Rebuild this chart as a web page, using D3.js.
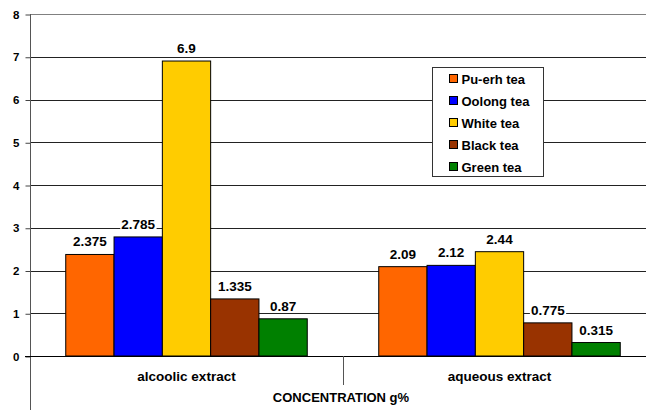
<!DOCTYPE html>
<html>
<head>
<meta charset="utf-8">
<script src="https://cdn.jsdelivr.net/npm/d3@7"></script>
<style>
  body { margin: 0; background: #fff; }
  svg { display: block; font-family: "Liberation Sans", Arial, sans-serif; font-weight: bold; }
</style>
</head>
<body>
<div id="chart"></div>
<script>
// data
const categories = ['alcoolic extract', 'aqueous extract'];
const series = ['Pu-erh tea', 'Oolong tea', 'White tea', 'Black tea', 'Green tea'];
const colors = ['#FF6600', '#0000FF', '#FFCC00', '#993300', '#008000'];
const valuesAlcoolic = [2.375, 2.785, 6.9, 1.335, 0.87];
const valuesAqueous = [2.09, 2.12, 2.44, 0.775, 0.315];
const labelsAlcoolic = ['2.375', '2.785', '6.9', '1.335', '0.87'];
const labelsAqueous = ['2.09', '2.12', '2.44', '0.775', '0.315'];
const yTicks = [0, 1, 2, 3, 4, 5, 6, 7, 8];

const width = 646, height = 413;

const svg = d3.select('#chart').append('svg')
    .attr('width', width)
    .attr('height', height);

const x0 = d3.scaleBand().domain(categories).range([30, 656]).padding(0);
const x1 = d3.scaleBand().domain(series).range([0, x0.bandwidth()]).paddingInner(0).paddingOuter(0.74);
const y = d3.scaleLinear().domain([0, 8]).range([356, 14]);
const color = d3.scaleOrdinal().domain(series).range(colors);

// gridlines
svg.append('g')
    .selectAll('line')
    .data(yTicks.filter(d => d > 0))
    .join('line')
    .attr('x1', 30).attr('x2', width)
    .attr('y1', d => Math.round(y(d)) + 0.5)
    .attr('y2', d => Math.round(y(d)) + 0.5)
    .attr('stroke', d => d === 8 ? '#808080' : '#222')
    .attr('stroke-width', 1);

// y axis
const yAxis = svg.append('g')
    .attr('transform', 'translate(30.5,0.5)')
    .call(d3.axisLeft(y).tickValues(yTicks).tickSize(5).tickFormat(d3.format('d')));
yAxis.select('.domain').remove();
yAxis.selectAll('.tick line').attr('stroke', '#444');
yAxis.selectAll('.tick text')
    .attr('x', -11)
    .style('font-size', '11.5px')
    .style('font-weight', 'bold')
    .style('font-family', '"Liberation Sans", Arial, sans-serif')
    .attr('fill', '#000');

svg.append('line')
    .attr('x1', 30.5).attr('x2', 30.5)
    .attr('y1', 14).attr('y2', 410)
    .attr('stroke', '#555');

// bars
const rows = categories.map((c, i) => ({
    cat: c,
    vals: i === 0 ? valuesAlcoolic : valuesAqueous,
    labs: i === 0 ? labelsAlcoolic : labelsAqueous
}));

const groups = svg.selectAll('.grp')
    .data(rows)
    .join('g')
    .attr('class', 'grp')
    .attr('transform', d => `translate(${x0(d.cat)},0)`);

groups.selectAll('rect')
    .data(d => series.map((s, j) => ({ s, v: d.vals[j] })))
    .join('rect')
    .attr('x', d => x1(d.s))
    .attr('y', d => y(d.v))
    .attr('width', x1.bandwidth())
    .attr('height', d => y(0) - y(d.v))
    .attr('fill', d => color(d.s))
    .attr('stroke', '#000')
    .attr('stroke-width', 1);

// value labels with white background
groups.each(function(d) {
    const g = d3.select(this);
    series.forEach((s, j) => {
        const cx = x1(s) + x1.bandwidth() / 2;
        const ty = y(d.vals[j]) - 8;
        const t = g.append('text')
            .attr('x', cx)
            .attr('y', ty)
            .attr('text-anchor', 'middle')
            .style('font-size', '13.5px')
            .attr('fill', '#000')
            .text(d.labs[j]);
        const bb = t.node().getBBox();
        g.insert('rect', () => t.node())
            .attr('x', bb.x - 1).attr('y', bb.y + 1)
            .attr('width', bb.width + 2).attr('height', bb.height - 2)
            .attr('fill', '#fff');
    });
});

// zero line
svg.append('line')
    .attr('x1', 25).attr('x2', width)
    .attr('y1', Math.round(y(0)) + 0.5).attr('y2', Math.round(y(0)) + 0.5)
    .attr('stroke', '#000');

// category divider
svg.append('line')
    .attr('x1', x0(categories[1]) + 0.5).attr('x2', x0(categories[1]) + 0.5)
    .attr('y1', y(0)).attr('y2', 385)
    .attr('stroke', '#555');

// category labels
svg.selectAll('.cat')
    .data(categories)
    .join('text')
    .attr('class', 'cat')
    .attr('x', d => x0(d) + x0.bandwidth() / 2)
    .attr('y', 381)
    .attr('text-anchor', 'middle')
    .style('font-size', '13.5px')
    .text(d => d);

svg.append('text')
    .attr('x', 341)
    .attr('y', 402)
    .attr('text-anchor', 'middle')
    .style('font-size', '13px')
    .text('CONCENTRATION g%');

// legend
const legend = svg.append('g').attr('transform', 'translate(432.5,67.5)');
legend.append('rect')
    .attr('width', 111).attr('height', 109)
    .attr('fill', '#fff')
    .attr('stroke', '#333');

const items = legend.selectAll('.item')
    .data(series)
    .join('g')
    .attr('class', 'item')
    .attr('transform', (d, i) => `translate(17,${11 + i * 22})`);

items.append('rect')
    .attr('x', 0).attr('y', -4)
    .attr('width', 8).attr('height', 8)
    .attr('fill', d => color(d))
    .attr('stroke', '#000');

items.append('text')
    .attr('x', 12)
    .attr('y', 5)
    .style('font-size', '13px')
    .text(d => d);
</script>
</body>
</html>
